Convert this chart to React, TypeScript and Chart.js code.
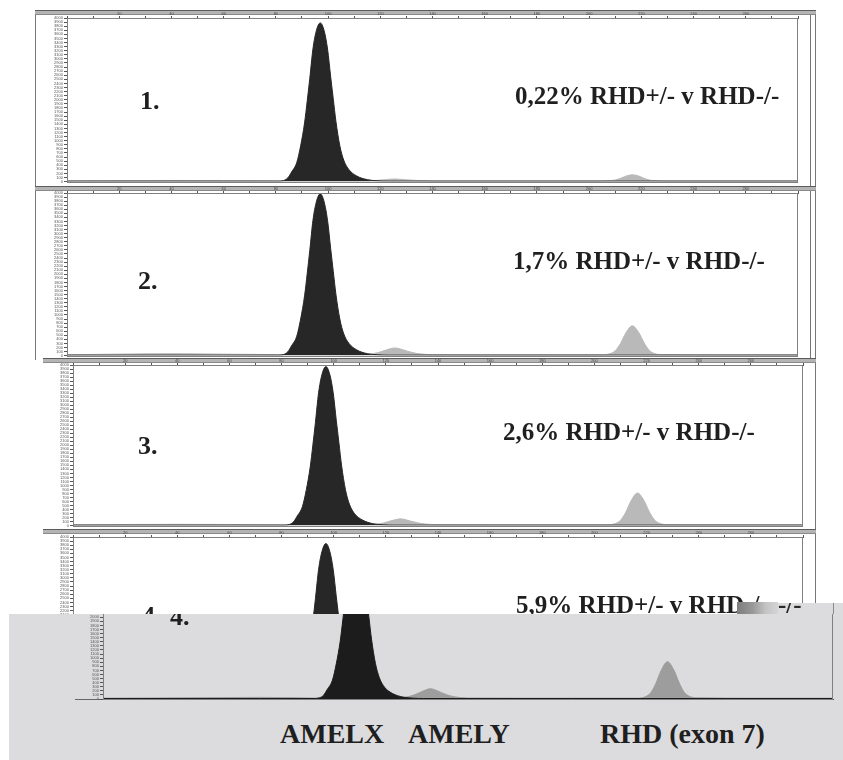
import React, { useEffect, useRef } from "react";
import { Chart, registerables } from "chart.js";

Chart.register(...registerables);

// ---------- DATA (scan units on x, % of panel height on y) ----------
const amelxScan = [0, 60, 81, 83, 84.6, 86, 88, 89.5, 91, 92, 93, 94.2, 95.5, 97, 98.5, 99.8, 101, 102, 103, 104.5, 106, 108, 111, 115, 119, 123, 180, 280];
const lightScan = [0, 40, 60, 80, 105, 112, 116, 119, 122, 124, 125.5, 127, 129, 132, 135, 140, 160, 190, 205, 208, 210, 212, 214, 216.5, 219, 221, 223, 225, 228, 250, 280];

const amelx1 = [0.3, 0.3, 0.3, 0.7, 2.3, 5.8, 11.6, 21.9, 35.9, 49.1, 63.1, 81.0, 92.2, 97, 92.2, 81.0, 64.0, 50.4, 36.9, 21.9, 13.1, 7.3, 3.4, 1.2, 0.5, 0.3, 0.3, 0.3];
const amelx2 = [0.3, 0.3, 0.3, 0.7, 2.4, 6.0, 11.9, 22.5, 36.8, 50.3, 64.7, 83.1, 94.5, 99.5, 94.5, 83.1, 65.7, 51.7, 37.8, 22.5, 13.4, 7.5, 3.5, 1.2, 0.5, 0.3, 0.3, 0.3];
const amelx3 = [0.3, 0.3, 0.3, 0.7, 2.4, 5.9, 11.9, 22.4, 36.6, 50.1, 64.4, 82.7, 94.1, 99, 94.1, 82.7, 65.3, 51.5, 37.6, 22.4, 13.4, 7.4, 3.5, 1.2, 0.5, 0.3, 0.3, 0.3];
const amelx4 = [0.3, 0.3, 0.3, 0.7, 2.3, 5.8, 11.5, 21.7, 35.5, 48.6, 62.4, 80.2, 91.2, 96, 91.2, 80.2, 63.4, 49.9, 36.5, 21.7, 13.0, 7.2, 3.4, 1.2, 0.5, 0.3, 0.3, 0.3];

const amelyRhd1 = [0.4, 0.6, 0.5, 0.4, 0.4, 0.4, 0.5, 0.8, 1.2, 1.5, 1.6, 1.5, 1.2, 0.9, 0.6, 0.4, 0.4, 0.4, 0.4, 0.6, 1.0, 2.0, 3.3, 4.2, 3.4, 2.0, 1.0, 0.6, 0.4, 0.4, 0.4];
const amelyRhd2 = [0.5, 1.2, 0.9, 0.6, 0.5, 0.5, 0.9, 1.8, 3.3, 4.3, 4.7, 4.4, 3.4, 2.0, 1.1, 0.6, 0.5, 0.5, 0.5, 1.2, 3.0, 7.5, 13.8, 18.3, 14.2, 8.0, 3.3, 1.3, 0.6, 0.5, 0.5];
const amelyRhd3 = [0.5, 0.8, 0.7, 0.5, 0.5, 0.5, 0.8, 1.6, 3.0, 3.8, 4.2, 3.9, 3.0, 1.8, 1.0, 0.6, 0.5, 0.5, 0.5, 1.3, 3.3, 8.3, 15.3, 20.3, 15.7, 8.8, 3.6, 1.4, 0.6, 0.5, 0.5];
const amelyRhd4 = [0.5, 0.8, 1.0, 0.6, 0.5, 0.5, 1.1, 2.3, 4.3, 5.7, 6.3, 5.8, 4.5, 2.5, 1.3, 0.6, 0.5, 0.5, 0.5, 1.4, 3.6, 9.3, 17.2, 22.8, 17.6, 9.9, 4.0, 1.6, 0.7, 0.5, 0.5];

const panelNumbers = ["1.", "2.", "3.", "4."];
const ratioLabels = ["0,22% RHD+/- v RHD-/-", "1,7% RHD+/- v RHD-/-", "2,6% RHD+/- v RHD-/-", "5,9% RHD+/- v RHD-/-"];
const markerLabels = ["AMELX", "AMELY", "RHD (exon 7)"];

const SERIF = '"Liberation Serif", "Times New Roman", serif';

const framePlugin = {
  id: "frame",
  afterDraw(chart: any, _args: any, opts: any) {
    const { ctx, chartArea: a } = chart;
    ctx.save();
    ctx.strokeStyle = opts.color || "#7a7a7a";
    ctx.lineWidth = 1;
    ctx.strokeRect(Math.round(a.left) + 0.5, Math.round(a.top) + 0.5, Math.round(a.right - a.left) - 1, Math.round(a.bottom - a.top));
    ctx.restore();
  },
};

type TraceProps = {
  chartLeft: number;
  chartTop: number;
  chartRight: number;
  chartBottom: number;
  dark: number[];
  light: number[];
  yMax: number;
  darkColor: string;
  lightColor: string;
  xAtTop: boolean;
};

function Trace(p: TraceProps) {
  const ref = useRef<HTMLCanvasElement>(null);
  const axisW = 32;
  const axisH = p.xAtTop ? 6 : 1;
  const left = p.chartLeft - axisW;
  const top = p.xAtTop ? p.chartTop - axisH : p.chartTop - 2;
  const width = p.chartRight + 2 - left;
  const height = p.xAtTop ? p.chartBottom + 2 - top : p.chartBottom + 4 - top;

  useEffect(() => {
    if (!ref.current) return;
    const chart = new Chart(ref.current, {
      type: "line",
      data: {
        datasets: [
          {
            label: "AMELX",
            data: amelxScan.map((x, i) => ({ x, y: p.dark[i] })),
            borderColor: p.darkColor,
            backgroundColor: p.darkColor,
            borderWidth: 1,
            fill: "origin",
            pointRadius: 0,
            cubicInterpolationMode: "monotone",
          },
          {
            label: "AMELY / RHD",
            data: lightScan.map((x, i) => ({ x, y: p.light[i] })),
            borderColor: p.lightColor,
            backgroundColor: p.lightColor,
            borderWidth: 1,
            fill: "origin",
            pointRadius: 0,
            cubicInterpolationMode: "monotone",
          },
        ],
      },
      options: {
        animation: false,
        responsive: false,
        events: [],
        layout: { padding: { left: 0, right: 2, top: p.xAtTop ? 0 : 2, bottom: p.xAtTop ? 2 : 3 } },
        plugins: {
          legend: { display: false },
          tooltip: { enabled: false },
          frame: { color: "#808080" },
        } as any,
        scales: {
          x: {
            type: "linear",
            position: p.xAtTop ? "top" : "bottom",
            min: 0,
            max: 280,
            ticks: p.xAtTop
              ? {
                  stepSize: 10,
                  autoSkip: false,
                  maxRotation: 0,
                  padding: 0,
                  color: "#444",
                  font: { size: 4 },
                  callback: (v: any) => (v > 0 && v < 280 && v % 20 === 0 ? String(v) : ""),
                }
              : { display: false },
            grid: p.xAtTop
              ? { drawOnChartArea: false, tickLength: 2, color: "#555" }
              : { display: false },
            border: { display: true, color: "#555" },
            afterFit: (s: any) => {
              s.height = axisH;
            },
          } as any,
          y: {
            min: 0,
            max: p.yMax,
            ticks: {
              stepSize: 2.5,
              autoSkip: false,
              padding: 1,
              color: "#555",
              font: { size: 4 },
              callback: (v: any) => String(Math.round(v * 40)),
            },
            grid: { drawOnChartArea: false, tickLength: 3, color: "#555" },
            border: { display: true, color: "#555" },
            afterFit: (s: any) => {
              s.width = axisW;
            },
          } as any,
        },
      },
      plugins: [framePlugin],
    });
    return () => chart.destroy();
  }, []);

  return (
    <canvas
      ref={ref}
      width={width}
      height={height}
      style={{ position: "absolute", left, top, width, height }}
    />
  );
}

function Label(props: { x: number; baseline: number; size: number; color?: string; children: any }) {
  const { x, baseline, size, color, children } = props;
  return (
    <div
      style={{
        position: "absolute",
        left: x,
        top: baseline - 0.8375 * size,
        font: `bold ${size}px ${SERIF}`,
        lineHeight: `${size}px`,
        whiteSpace: "nowrap",
        color: color || "#1f1f1f",
      }}
    >
      {children}
    </div>
  );
}

function VLine(props: { x: number; y1: number; y2: number; color?: string }) {
  return (
    <div style={{ position: "absolute", left: props.x, top: props.y1, width: 1, height: props.y2 - props.y1, background: props.color || "#777" }} />
  );
}

function HeaderBand(props: { x1: number; x2: number; y: number }) {
  return (
    <div
      style={{
        position: "absolute",
        left: props.x1,
        top: props.y,
        width: props.x2 - props.x1,
        height: 3,
        background: "#b4b4b4",
        borderTop: "1px solid #5c5c5c",
        borderBottom: "1px solid #8a8a8a",
      }}
    />
  );
}

const panels = [
  { frameLeft: 35, header: 10, chartLeft: 67, chartTop: 18, chartRight: 798, chartBottom: 183, dark: amelx1, light: amelyRhd1, numX: 140, numBase: 110, ratioX: 515, ratioBase: 104 },
  { frameLeft: 35, header: 186, chartLeft: 67, chartTop: 193, chartRight: 798, chartBottom: 357, dark: amelx2, light: amelyRhd2, numX: 138, numBase: 290, ratioX: 513, ratioBase: 269 },
  { frameLeft: 43, header: 358, chartLeft: 73, chartTop: 365, chartRight: 803, chartBottom: 527, dark: amelx3, light: amelyRhd3, numX: 138, numBase: 455, ratioX: 503, ratioBase: 440 },
  { frameLeft: 43, header: 529, chartLeft: 73, chartTop: 537, chartRight: 803, chartBottom: 702, dark: amelx4, light: amelyRhd4, numX: 142, numBase: 625, ratioX: 516, ratioBase: 613 },
];

export default function App() {
  const greyLeft = 9;
  const greyTop = 614;
  return (
    <div
      style={{
        position: "absolute",
        left: 0,
        top: 0,
        width: 843,
        height: 760,
        overflow: "hidden",
        background: "#ffffff",
      }}
    >
      {/* frame lines */}
      <VLine x={35} y1={10} y2={360} />
      <VLine x={810} y1={10} y2={360} />
      <VLine x={815} y1={10} y2={614} />

      {panels.map((pn, i) => (
        <React.Fragment key={i}>
          <HeaderBand x1={pn.frameLeft} x2={816} y={pn.header} />
          <Trace
            chartLeft={pn.chartLeft}
            chartTop={pn.chartTop}
            chartRight={pn.chartRight}
            chartBottom={pn.chartBottom}
            dark={pn.dark}
            light={pn.light}
            yMax={100}
            darkColor="#272727"
            lightColor="#b9b9b9"
            xAtTop={true}
          />
          <Label x={pn.numX} baseline={pn.numBase} size={26}>
            {panelNumbers[i]}
          </Label>
          <Label x={pn.ratioX} baseline={pn.ratioBase} size={25}>
            {ratioLabels[i]}
          </Label>
        </React.Fragment>
      ))}

      {/* grey overlay with the re-pasted lower part of panel 4 */}
      <div
        style={{
          position: "absolute",
          left: 778,
          top: 603,
          width: 65,
          height: 11,
          background: "#dcdcde",
          overflow: "hidden",
        }}
      >
        <Label x={0} baseline={10} size={25} color="#2a2a2a">
          -/-
        </Label>
        <div style={{ position: "absolute", left: 55, top: 0, width: 1, height: 11, background: "#8a8a8a" }} />
      </div>
      <div style={{ position: "absolute", left: 737, top: 602, width: 41, height: 12, background: "linear-gradient(90deg, #7d7d7d 0%, #9a9a9a 40%, #c4c4c4 70%, #d4d4d4 100%)" }} />

      <div
        style={{
          position: "absolute",
          left: greyLeft,
          top: greyTop,
          width: 843 - greyLeft,
          height: 760 - greyTop,
          background: "#dcdcde",
          overflow: "hidden",
        }}
      >
        <div style={{ position: "absolute", left: 75 - greyLeft, top: 699 - greyTop, width: 30, height: 1, background: "#666" }} />
        <Trace
          chartLeft={103 - greyLeft}
          chartTop={593 - greyTop}
          chartRight={833 - greyLeft}
          chartBottom={699 - greyTop}
          dark={amelx4}
          light={amelyRhd4}
          yMax={64}
          darkColor="#1c1c1c"
          lightColor="#9d9d9d"
          xAtTop={false}
        />
        <Label x={170 - greyLeft} baseline={626 - greyTop} size={26}>
          {panelNumbers[3]}
        </Label>
        <Label x={280 - greyLeft} baseline={743 - greyTop} size={28}>
          {markerLabels[0]}
        </Label>
        <Label x={408 - greyLeft} baseline={743 - greyTop} size={28}>
          {markerLabels[1]}
        </Label>
        <Label x={600 - greyLeft} baseline={743 - greyTop} size={28}>
          {markerLabels[2]}
        </Label>
      </div>
    </div>
  );
}
